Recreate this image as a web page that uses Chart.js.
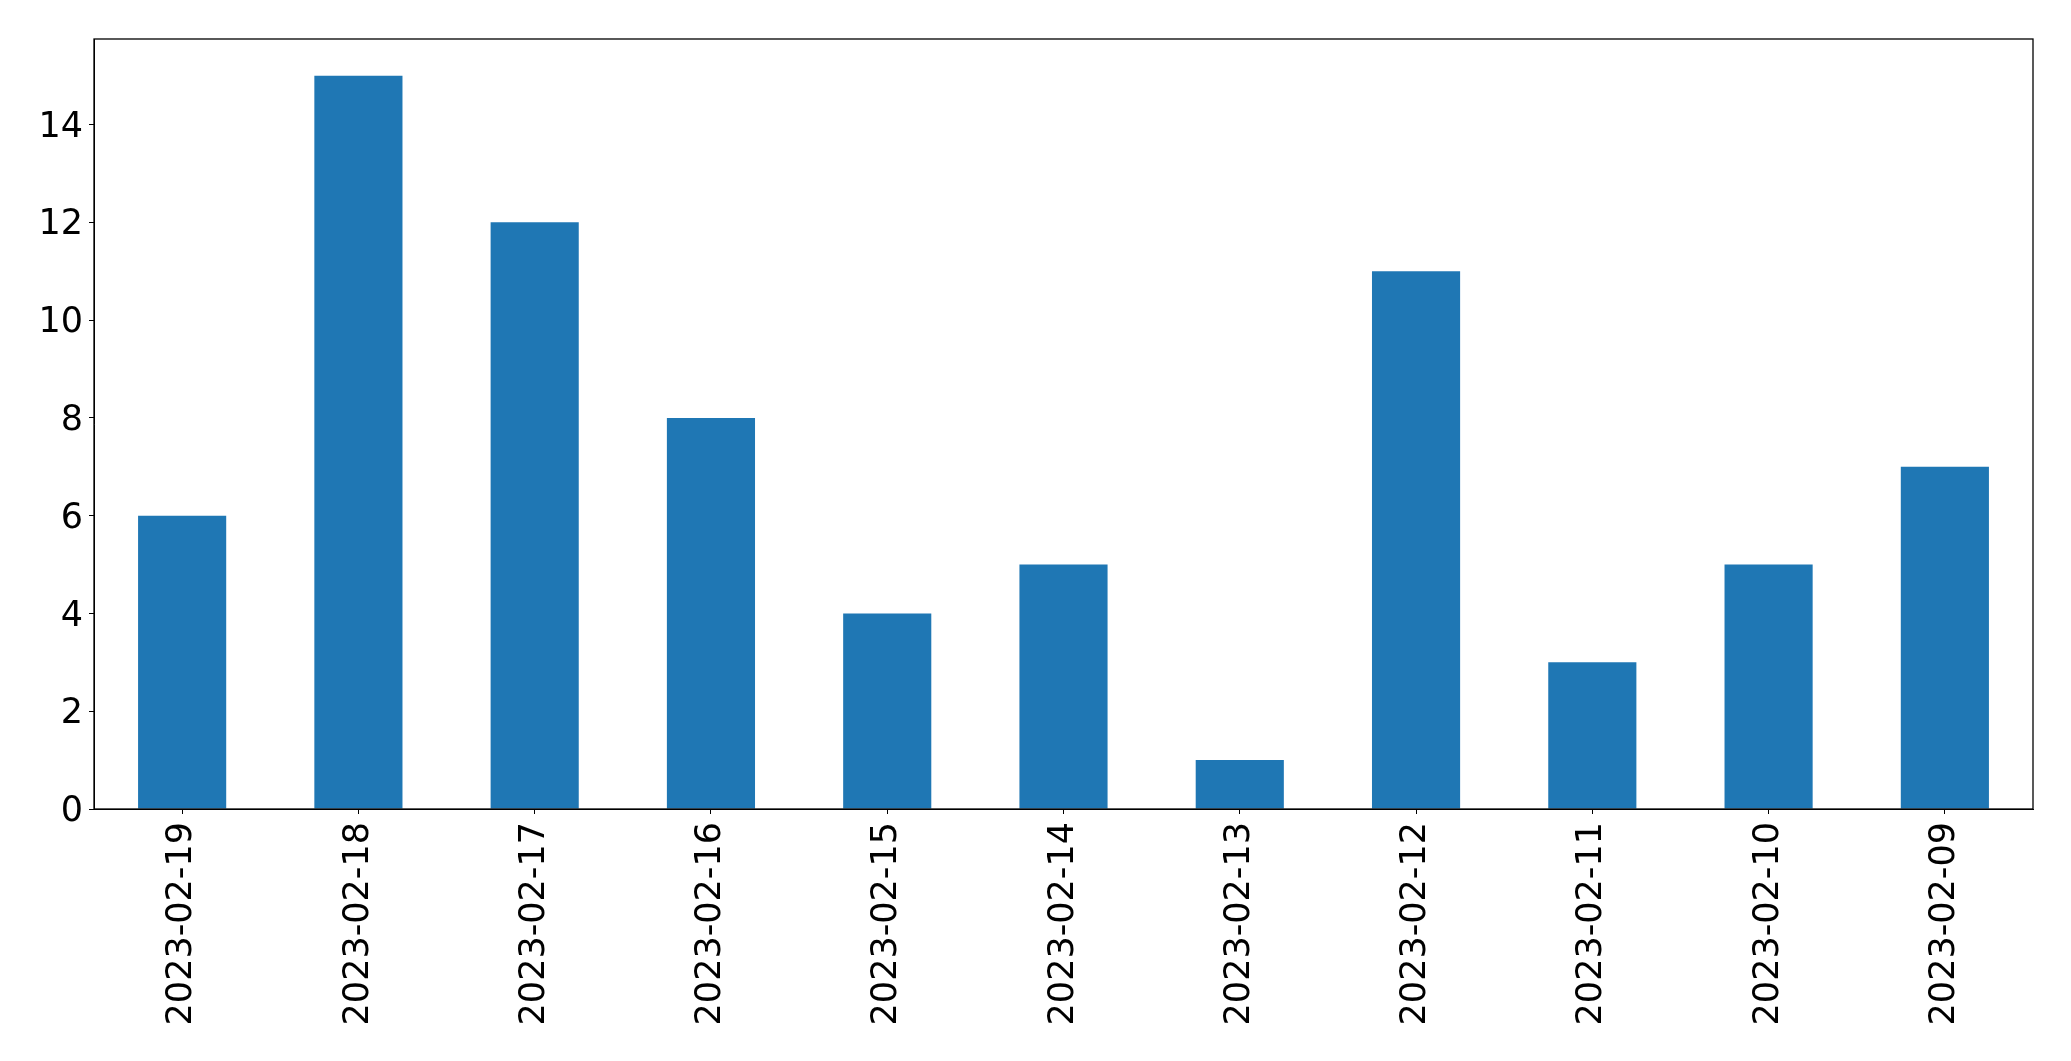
<!DOCTYPE html>
<html>
<head>
<meta charset="utf-8">
<script src="https://cdn.jsdelivr.net/npm/chart.js@4"></script>
<style>
  html, body { margin: 0; padding: 0; background: #fff; }
  #wrap { width: 2071px; height: 1061px; }
</style>
</head>
<body>
<div id="wrap"><canvas id="chart" width="2071" height="1061"></canvas></div>
<script>
const dates = ["2023-02-19", "2023-02-18", "2023-02-17", "2023-02-16", "2023-02-15", "2023-02-14",
               "2023-02-13", "2023-02-12", "2023-02-11", "2023-02-10", "2023-02-09"];
const counts = [6, 15, 12, 8, 4, 5, 1, 11, 3, 5, 7];
const yTicks = [0, 2, 4, 6, 8, 10, 12, 14];

const font = { family: "DejaVu Sans", size: 35 };

// frame on all four sides, like matplotlib spines
const frame = {
    id: 'frame',
    afterDraw(chart) {
        const a = chart.chartArea, c = chart.ctx;
        c.save();
        c.strokeStyle = '#000';
        c.lineWidth = 1.3;
        c.strokeRect(a.left, a.top, a.right - a.left, a.bottom - a.top);
        c.restore();
    }
};

new Chart(document.getElementById('chart').getContext('2d'), {
    type: 'bar',
    data: {
        labels: dates,
        datasets: [{
            data: counts,
            backgroundColor: '#1f77b4',
            borderWidth: 0,
            barPercentage: 0.5,
            categoryPercentage: 1.0
        }]
    },
    options: {
        responsive: false,
        animation: false,
        layout: { padding: { top: 39, right: 38, left: 0, bottom: 0 } },
        plugins: { legend: { display: false }, tooltip: { enabled: false } },
        scales: {
            x: {
                offset: true,
                grid: { drawOnChartArea: false, drawTicks: true, tickLength: 5, color: '#000', offset: false },
                border: { display: true, color: '#000' },
                ticks: { font: font, color: '#000', minRotation: 90, maxRotation: 90, padding: 8, autoSkip: false },
                afterFit(s) { s.height = 1061 - 809; }
            },
            y: {
                min: 0,
                max: 15.75,
                grid: { drawOnChartArea: false, drawTicks: true, tickLength: 5, color: '#000' },
                border: { display: true, color: '#000' },
                afterBuildTicks(s) { s.ticks = yTicks.map(v => ({ value: v })); },
                ticks: { font: font, color: '#000', padding: 6, labelOffset: 3 },
                afterFit(s) { s.width = 94; }
            }
        }
    },
    plugins: [frame]
});
</script>
</body>
</html>
